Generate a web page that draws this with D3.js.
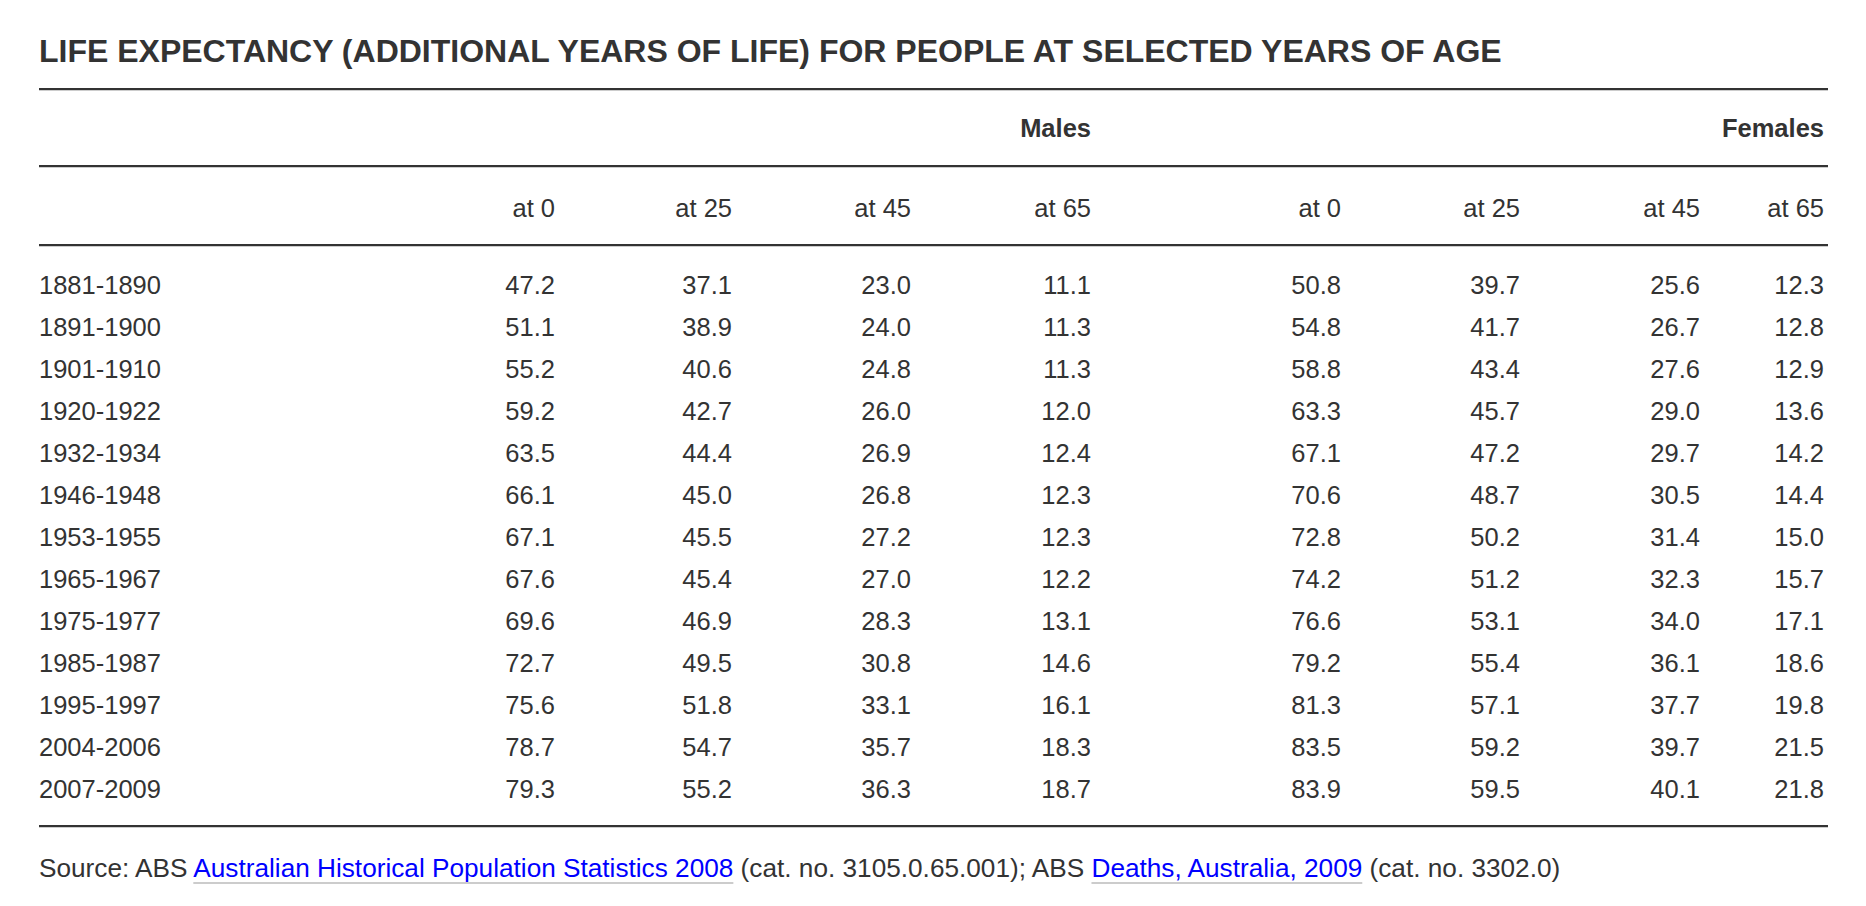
<!DOCTYPE html>
<html>
<head>
<meta charset="utf-8">
<script src="https://cdn.jsdelivr.net/npm/d3@7/dist/d3.min.js"></script>
<style>
  body { margin: 0; background: #fff; }
  svg text { font-family: "Liberation Sans", Arial, Helvetica, sans-serif; fill: #333; }
</style>
</head>
<body>
<svg id="chart" width="1866" height="906"></svg>
<script>
var periods = ["1881-1890", "1891-1900", "1901-1910", "1920-1922", "1932-1934", "1946-1948",
    "1953-1955", "1965-1967", "1975-1977", "1985-1987", "1995-1997", "2004-2006", "2007-2009"];
var ages = ["at 0", "at 25", "at 45", "at 65"];
var groups = ["Males", "Females"];

var males0  = [47.2, 51.1, 55.2, 59.2, 63.5, 66.1, 67.1, 67.6, 69.6, 72.7, 75.6, 78.7, 79.3];
var males25 = [37.1, 38.9, 40.6, 42.7, 44.4, 45.0, 45.5, 45.4, 46.9, 49.5, 51.8, 54.7, 55.2];
var males45 = [23.0, 24.0, 24.8, 26.0, 26.9, 26.8, 27.2, 27.0, 28.3, 30.8, 33.1, 35.7, 36.3];
var males65 = [11.1, 11.3, 11.3, 12.0, 12.4, 12.3, 12.3, 12.2, 13.1, 14.6, 16.1, 18.3, 18.7];
var females0  = [50.8, 54.8, 58.8, 63.3, 67.1, 70.6, 72.8, 74.2, 76.6, 79.2, 81.3, 83.5, 83.9];
var females25 = [39.7, 41.7, 43.4, 45.7, 47.2, 48.7, 50.2, 51.2, 53.1, 55.4, 57.1, 59.2, 59.5];
var females45 = [25.6, 26.7, 27.6, 29.0, 29.7, 30.5, 31.4, 32.3, 34.0, 36.1, 37.7, 39.7, 40.1];
var females65 = [12.3, 12.8, 12.9, 13.6, 14.2, 14.4, 15.0, 15.7, 17.1, 18.6, 19.8, 21.5, 21.8];

var title = "LIFE EXPECTANCY (ADDITIONAL YEARS OF LIFE) FOR PEOPLE AT SELECTED YEARS OF AGE";

var series = [males0, males25, males45, males65, females0, females25, females45, females65];
var columns = [];
groups.forEach(function (g, gi) {
    ages.forEach(function (a, ai) {
        columns.push({ key: g + " " + a, group: g, age: a, values: series[gi * 4 + ai] });
    });
});

var svg = d3.select("#chart");
var left = 39, right = 1828;

// right edge of each column (html-table style widths)
var xCol = d3.scaleOrdinal()
    .domain(columns.map(function (c) { return c.key; }))
    .range([555, 732, 911, 1091, 1341, 1520, 1700, 1824]);

var yRow = d3.scalePoint()
    .domain(periods)
    .range([294, 798]);

svg.append("text")
    .attr("x", left)
    .attr("y", 62)
    .style("font-size", "32px")
    .style("font-weight", "bold")
    .text(title);

function rule(y) {
    svg.append("rect").attr("x", left).attr("y", y).attr("width", right - left).attr("height", 2).style("fill", "#333");
    svg.append("rect").attr("x", left).attr("y", y + 2).attr("width", right - left).attr("height", 1).style("fill", "#ccc");
}
rule(88);
rule(165);
rule(244);
rule(825);

// group headers sit over the last column of each group
svg.selectAll(".group")
    .data(groups)
    .enter().append("text")
    .attr("class", "group")
    .attr("x", function (g) { return xCol(g + " at 65"); })
    .attr("y", 137)
    .attr("text-anchor", "end")
    .style("font-size", "25.5px")
    .style("font-weight", "bold")
    .text(function (g) { return g; });

svg.selectAll(".age")
    .data(columns)
    .enter().append("text")
    .attr("class", "age")
    .attr("x", function (c) { return xCol(c.key); })
    .attr("y", 217)
    .attr("text-anchor", "end")
    .style("font-size", "25.5px")
    .text(function (c) { return c.age; });

svg.selectAll(".period")
    .data(periods)
    .enter().append("text")
    .attr("class", "period")
    .attr("x", left)
    .attr("y", function (p) { return yRow(p); })
    .style("font-size", "25.5px")
    .text(function (p) { return p; });

columns.forEach(function (c) {
    svg.selectAll(null)
        .data(c.values)
        .enter().append("text")
        .attr("x", xCol(c.key))
        .attr("y", function (v, i) { return yRow(periods[i]); })
        .attr("text-anchor", "end")
        .style("font-size", "25.5px")
        .text(function (v) { return d3.format(".1f")(v); });
});

// source line with links
var source = svg.append("text")
    .attr("x", left)
    .attr("y", 877)
    .style("font-size", "26.2px");
var parts = [
    { t: "Source: ABS ", link: false },
    { t: "Australian Historical Population Statistics 2008", link: true },
    { t: " (cat. no. 3105.0.65.001); ABS ", link: false },
    { t: "Deaths, Australia, 2009", link: true },
    { t: " (cat. no. 3302.0)", link: false }
];
source.selectAll("tspan")
    .data(parts)
    .enter().append("tspan")
    .style("fill", function (d) { return d.link ? "#00f" : "#333"; })
    .text(function (d) { return d.t; });

// border under links
source.selectAll("tspan").each(function (d, i) {
    if (!d.link) return;
    var n = this;
    var start = n.getStartPositionOfChar(0).x;
    var w = n.getComputedTextLength();
    svg.append("rect")
        .attr("x", start)
        .attr("y", 882)
        .attr("width", w)
        .attr("height", 2)
        .style("fill", "#ccc");
});
</script>
</body>
</html>
